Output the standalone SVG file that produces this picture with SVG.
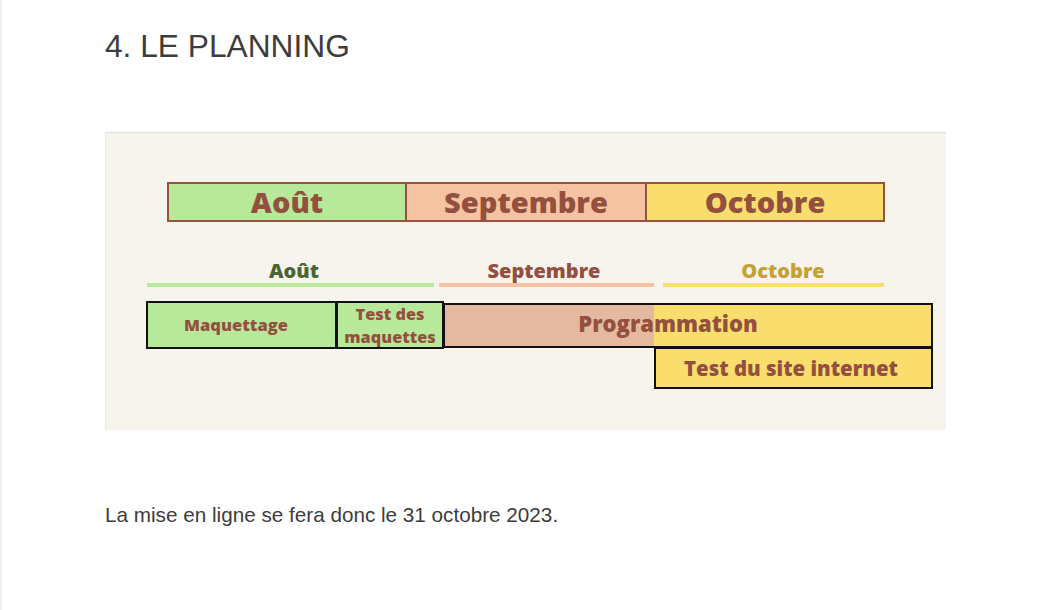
<svg xmlns="http://www.w3.org/2000/svg" width="1050" height="610" viewBox="0 0 1050 610">
  <style>
    .doc { font-family: "Liberation Sans", Arial, sans-serif; fill: #3d3d3d; }
    .month { font-family: "Open Sans", "Noto Sans", sans-serif; font-weight: 800; font-size: 29px; fill: #94503f; text-anchor: middle; }
    .mhead { font-family: "Open Sans", "Noto Sans", sans-serif; font-weight: 800; font-size: 20px; text-anchor: middle; }
    .task { font-family: "Open Sans", "Noto Sans", sans-serif; font-weight: 800; fill: #94503f; text-anchor: middle; }
    .mbox { stroke: #94523f; stroke-width: 2; }
    .tbox { stroke: #111; stroke-width: 2; }
  </style>

  <!-- page -->
  <rect x="0" y="0" width="1050" height="610" fill="#ffffff"/>
  <line x1="1" y1="0" x2="1" y2="610" stroke="#e2e2e2" stroke-width="1"/>
  <text class="doc" x="105" y="57" font-size="31.7">4. LE PLANNING</text>

  <!-- chart panel -->
  <rect x="105" y="132" width="841" height="298" fill="#f7f4ee"/>
  <line x1="105" y1="132.5" x2="946" y2="132.5" stroke="#e3e3e6" stroke-width="1.5"/>
  <line x1="105.5" y1="132" x2="105.5" y2="430" stroke="#ecebe8" stroke-width="1"/>

  <!-- month banner -->
  <g id="banner-aout">
    <rect class="mbox" x="168" y="183" width="238" height="38" fill="#b8e99b"/>
    <text class="month" x="287" y="213">Août</text>
  </g>
  <g id="banner-septembre">
    <rect class="mbox" x="406" y="183" width="240" height="38" fill="#f5c3a1"/>
    <text class="month" x="526" y="213">Septembre</text>
  </g>
  <g id="banner-octobre">
    <rect class="mbox" x="646" y="183" width="238" height="38" fill="#f9de6e"/>
    <text class="month" x="765" y="213">Octobre</text>
  </g>

  <!-- month headers with underlines -->
  <g id="head-aout">
    <text class="mhead" x="294" y="278" fill="#4b6536">Août</text>
    <rect x="147" y="283" width="287" height="4" fill="#b8e99b"/>
  </g>
  <g id="head-septembre">
    <text class="mhead" x="544" y="278" fill="#94503f" font-size="20.8">Septembre</text>
    <rect x="439" y="283" width="215" height="4" fill="#f5c3a1"/>
  </g>
  <g id="head-octobre">
    <text class="mhead" x="783" y="278" fill="#c5a036">Octobre</text>
    <rect x="663" y="283" width="221" height="4" fill="#f9de6e"/>
  </g>

  <!-- tasks -->
  <g id="task-maquettage">
    <rect class="tbox" x="147" y="302" width="189" height="46" fill="#b8e99b"/>
    <text class="task" x="236" y="331" font-size="16.5">Maquettage</text>
  </g>
  <g id="task-test-maquettes">
    <rect class="tbox" x="337" y="302" width="106" height="46" fill="#b8e99b"/>
    <text class="task" x="390" y="320" font-size="16.3">Test des</text>
    <text class="task" x="390" y="343" font-size="16.3">maquettes</text>
  </g>
  <g id="task-programmation">
    <rect x="444" y="304" width="210" height="43" fill="#e4b9a0"/>
    <rect x="654" y="304" width="278" height="43" fill="#f9de6e"/>
    <rect class="tbox" x="444" y="304" width="488" height="43" fill="none"/>
    <text class="task" x="668" y="332" font-size="22">Programmation</text>
  </g>
  <g id="task-test-site">
    <rect class="tbox" x="655" y="348" width="277" height="40" fill="#f9de6e"/>
    <text class="task" x="791" y="376" font-size="20.4">Test du site internet</text>
  </g>

  <g id="connectors"></g>

  <text class="doc" x="105" y="522" font-size="20.7" fill="#111">La mise en ligne se fera donc le 31 octobre 2023.</text>
</svg>
